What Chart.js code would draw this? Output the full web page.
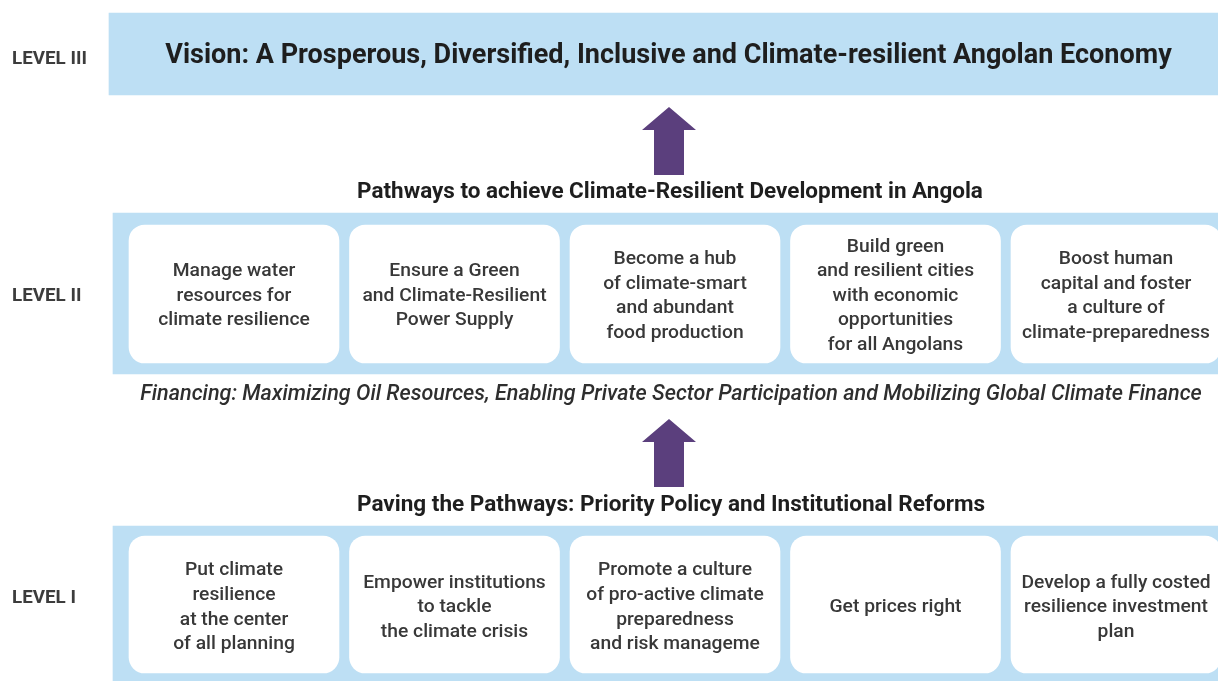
<!DOCTYPE html>
<html>
<head>
<meta charset="utf-8">
<script src="https://cdn.jsdelivr.net/npm/chart.js@4"></script>
<style>
  html, body { margin: 0; padding: 0; background: #fff; }
  #wrap { width: 1218px; height: 681px; }
</style>
</head>
<body>
<div id="wrap"><canvas id="grafico"></canvas></div>
<script>
const levelLabels = ['LEVEL III', 'LEVEL II', 'LEVEL I'];
const vision = 'Vision: A Prosperous, Diversified, Inclusive and Climate-resilient Angolan Economy';
const pathwaysTitle = 'Pathways to achieve Climate-Resilient Development in Angola';
const financing = 'Financing: Maximizing Oil Resources, Enabling Private Sector Participation and Mobilizing Global Climate Finance';
const reformsTitle = 'Paving the Pathways: Priority Policy and Institutional Reforms';
const pathways = [
  ['Manage water', 'resources for', 'climate resilience'],
  ['Ensure a Green', 'and Climate-Resilient', 'Power Supply'],
  ['Become a hub', 'of climate-smart', 'and abundant', 'food production'],
  ['Build green', 'and resilient cities', 'with economic', 'opportunities', 'for all Angolans'],
  ['Boost human', 'capital and foster', 'a culture of', 'climate-preparedness']
];
const reforms = [
  ['Put climate', 'resilience', 'at the center', 'of all planning'],
  ['Empower institutions', 'to tackle', 'the climate crisis'],
  ['Promote a culture', 'of pro-active climate', 'preparedness', 'and risk manageme'],
  ['Get prices right'],
  ['Develop a fully costed', 'resilience investment', 'plan']
];

// layout (pixel units of the hidden scales)
const boxLeft = 129, boxStep = 220.5, boxW = 210;
const rows = [
  { top: 225, bottom: 363, texts: pathways, shift: 2 },
  { top: 536, bottom: 673, texts: reforms, shift: 3 }
];
const bands = [
  { left: 109, top: 13, bottom: 95 },
  { left: 113, top: 213, bottom: 374 },
  { left: 113, top: 526, bottom: 690 }
];
const levelY = [59, 296, 598];
const arrowTops = [107, 419];

const blue = '#bddff4';
const purple = '#5b3f7d';

function centro(i) { return boxLeft + boxW / 2 + i * boxStep; }

const datasets = [];
bands.forEach((b, k) => {
  datasets.push({
    label: 'band' + k,
    data: [{ x: (b.left + 1240) / 2, y: [b.top, b.bottom] }],
    backgroundColor: blue,
    barThickness: 1240 - b.left,
    grouped: false,
    borderSkipped: false,
    order: 2
  });
});
rows.forEach((r, k) => {
  datasets.push({
    label: 'boxes' + k,
    data: r.texts.map((t, i) => ({ x: centro(i), y: [r.top, r.bottom] })),
    backgroundColor: '#ffffff',
    barThickness: boxW,
    borderRadius: 16,
    borderSkipped: false,
    grouped: false,
    order: 1
  });
});

function fitFont(ctx, text, style, family, target) {
  ctx.font = `${style} 20px ${family}`;
  const w = ctx.measureText(text).width;
  return `${style} ${(20 * target / w).toFixed(2)}px ${family}`;
}

const textPlugin = {
  id: 'textos',
  afterDatasetsDraw(chart) {
    const ctx = chart.ctx;
    const sx = chart.scales.x, sy = chart.scales.y;
    const px = v => sx.getPixelForValue(v);
    const py = v => sy.getPixelForValue(v);
    ctx.save();
    ctx.textAlign = 'center';
    ctx.textBaseline = 'middle';

    // arrows
    ctx.fillStyle = purple;
    arrowTops.forEach(t => {
      ctx.beginPath();
      ctx.moveTo(px(669), py(t));
      ctx.lineTo(px(696), py(t + 23));
      ctx.lineTo(px(684), py(t + 23));
      ctx.lineTo(px(684), py(t + 68));
      ctx.lineTo(px(654), py(t + 68));
      ctx.lineTo(px(654), py(t + 23));
      ctx.lineTo(px(642), py(t + 23));
      ctx.closePath();
      ctx.fill();
    });

    // level labels
    ctx.fillStyle = '#3c3c3c';
    ctx.textAlign = 'left';
    const levelFont = fitFont(ctx, 'LEVEL III', 'bold', 'Roboto', 75);
    levelLabels.forEach((l, i) => {
      ctx.font = levelFont;
      ctx.fillText(l, px(12), py(levelY[i]));
    });

    // titles
    ctx.textAlign = 'center';
    ctx.fillStyle = '#1e1e1e';
    ctx.font = fitFont(ctx, vision, 'bold', 'Roboto', 1007);
    ctx.fillText(vision, px(668.5), py(56));
    ctx.font = fitFont(ctx, pathwaysTitle, 'bold', 'Roboto', 626);
    ctx.fillText(pathwaysTitle, px(670), py(192));
    ctx.font = fitFont(ctx, reformsTitle, 'bold', 'Roboto', 628);
    ctx.fillText(reformsTitle, px(671), py(505));
    ctx.fillStyle = '#2e2e2e';
    ctx.font = fitFont(ctx, financing, 'italic 500', 'Roboto', 1062);
    ctx.fillText(financing, px(671), py(395));

    // box texts
    ctx.fillStyle = '#383838';
    ctx.font = fitFont(ctx, 'climate-preparedness', '500', 'Roboto', 188);
    const lh = 24.6;
    rows.forEach(r => {
      const mid = (r.top + r.bottom) / 2 + r.shift;
      r.texts.forEach((lines, i) => {
        const y0 = mid - (lines.length - 1) * lh / 2;
        lines.forEach((s, j) => ctx.fillText(s, px(centro(i)), py(y0 + j * lh)));
      });
    });
    ctx.restore();
  }
};

new Chart(document.getElementById('grafico'), {
  type: 'bar',
  data: { datasets: datasets },
  options: {
    responsive: true,
    maintainAspectRatio: false,
    animation: false,
    layout: { padding: 0 },
    plugins: { legend: { display: false }, tooltip: { enabled: false } },
    scales: {
      x: { type: 'linear', min: 0, max: 1218, offset: false, display: false },
      y: { type: 'linear', min: 0, max: 681, reverse: true, display: false }
    }
  },
  plugins: [textPlugin]
});
</script>
</body>
</html>
